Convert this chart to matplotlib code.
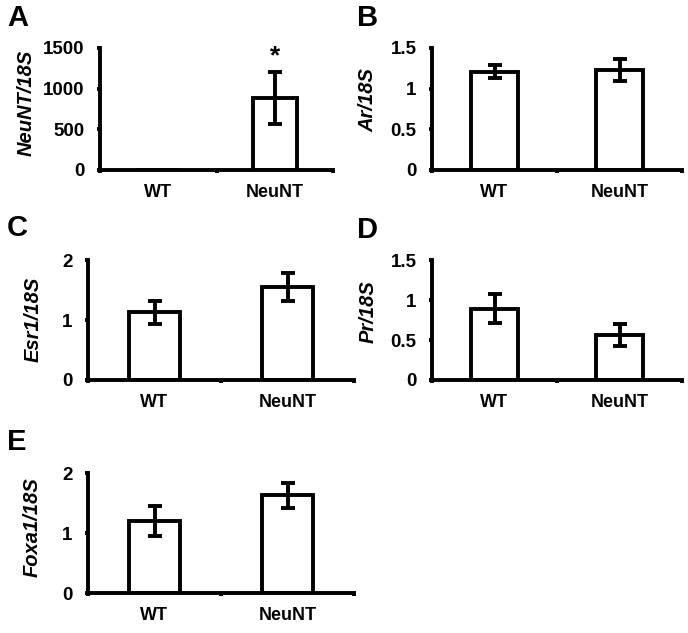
"""
NeuNT expression panels: qPCR ratios to 18S, WT vs NeuNT
"""

import matplotlib.pyplot as plt
from matplotlib.ticker import FixedLocator

plt.rcParams['font.family'] = ['Liberation Sans', 'DejaVu Sans']
plt.rcParams['font.weight'] = 'bold'

# Data
groups = ['WT', 'NeuNT']

neunt_mean = [1, 885]
neunt_err = [0, 315]

ar_mean = [1.21, 1.23]
ar_err = [0.085, 0.14]

esr1_mean = [1.13, 1.55]
esr1_err = [0.19, 0.23]

pr_mean = [0.89, 0.56]
pr_err = [0.18, 0.14]

foxa1_mean = [1.20, 1.63]
foxa1_err = [0.25, 0.21]

PANELS = [
    # letter, ylabel, means, errs, yticks, ytick labels, star
    ('A', 'NeuNT/18S', neunt_mean, neunt_err, [0, 500, 1000, 1500],
     ['0', '500', '1000', '1500'], True),
    ('B', 'Ar/18S', ar_mean, ar_err, [0, 0.5, 1, 1.5],
     ['0', '0.5', '1', '1.5'], False),
    ('C', 'Esr1/18S', esr1_mean, esr1_err, [0, 1, 2],
     ['0', '1', '2'], False),
    ('D', 'Pr/18S', pr_mean, pr_err, [0, 0.5, 1, 1.5],
     ['0', '0.5', '1', '1.5'], False),
    ('E', 'Foxa1/18S', foxa1_mean, foxa1_err, [0, 1, 2],
     ['0', '1', '2'], False),
]

# axes boxes in pixels: left, right, top, bottom
BOXES = {
    'A': (100, 333, 48, 170),
    'B': (432, 682, 48, 170),
    'C': (88, 354, 260, 380),
    'D': (432, 682, 260, 380),
    'E': (88, 354, 473, 593),
}
LETTER_POS = {'A': (7, 18), 'B': (357, 18), 'C': (7, 228),
              'D': (357, 230), 'E': (7, 442)}
YLABEL_POS = {'A': (26, 103), 'B': (368, 100), 'C': (33, 319),
              'D': (368, 312), 'E': (32, 527)}

W, H = 688, 633
fig = plt.figure(figsize=(W / 100, H / 100), dpi=100)
fig.patch.set_facecolor('white')

LW = 2.8

for letter, ylabel, means, errs, yticks, ylabels, star in PANELS:
    l, r, t, b = BOXES[letter]
    ax = fig.add_axes([l / W, 1 - b / H, (r - l) / W, (b - t) / H])
    x = range(len(groups))
    ax.bar(x, means, width=0.38, color='white', edgecolor='black',
           linewidth=LW, zorder=2)
    ax.errorbar(x, means, yerr=errs, fmt='none', ecolor='black',
                elinewidth=LW, capsize=4.8, capthick=LW, zorder=3)
    if star:
        top = means[1] + errs[1]
        ax.text(1, top + 0.03 * yticks[-1], '*', ha='center', va='bottom',
                fontsize=19, fontweight='bold')

    ax.set_xlim(-0.5, 1.5)
    ax.set_ylim(0, yticks[-1])
    ax.set_yticks(yticks)
    ax.set_yticklabels(ylabels)
    ax.set_xticks([0, 1])
    ax.set_xticklabels(groups)
    ax.xaxis.set_minor_locator(FixedLocator([-0.5, 0.5, 1.5]))
    ax.tick_params(axis='x', which='major', length=0, pad=10, labelsize=13)
    ax.tick_params(axis='x', which='minor', length=2.5, width=LW,
                   direction='out')
    ax.tick_params(axis='y', length=2, width=LW, direction='out', pad=9,
                   labelsize=13.5)
    for lab in ax.get_xticklabels() + ax.get_yticklabels():
        lab.set_fontweight('bold')

    for side in ['top', 'right']:
        ax.spines[side].set_visible(False)
    for side in ['left', 'bottom']:
        ax.spines[side].set_linewidth(LW)
    ax.spines['bottom'].set_zorder(4)

    yx, yy = YLABEL_POS[letter]
    fig.text(yx / W, 1 - yy / H, ylabel, fontsize=14.5, fontweight='bold',
             style='italic', rotation=90, ha='center', va='center')

    lx, ly = LETTER_POS[letter]
    fig.text(lx / W, 1 - ly / H, letter, fontsize=21, fontweight='bold',
             ha='left', va='center')

plt.savefig('out.png', dpi=100, facecolor='white')
plt.close()
